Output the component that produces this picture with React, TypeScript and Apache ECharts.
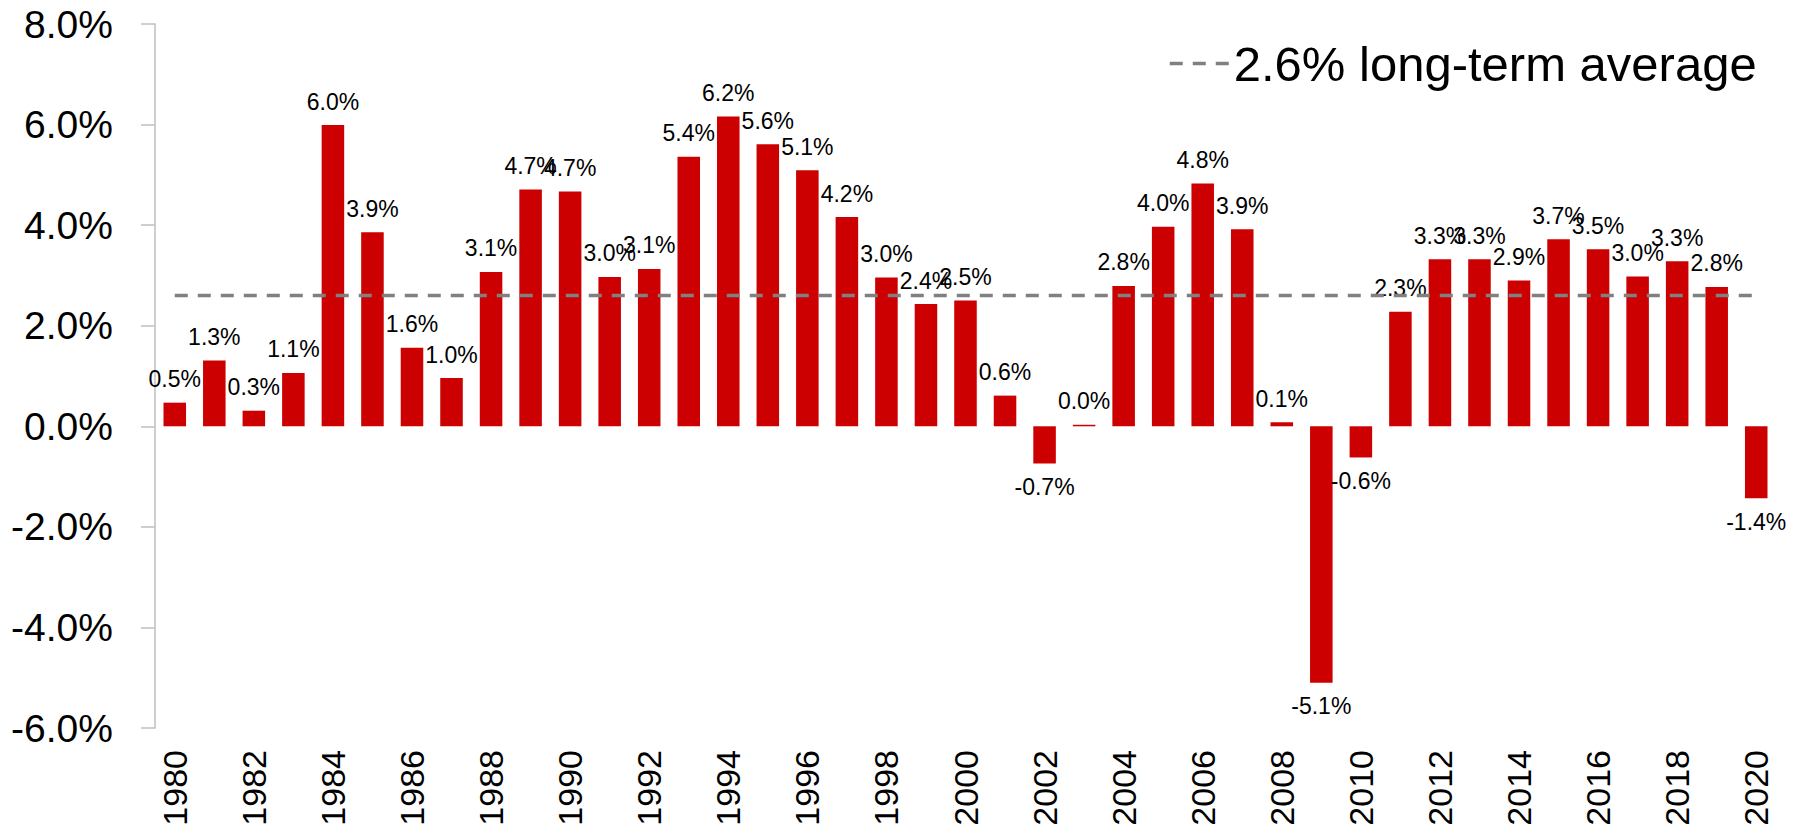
import React, { useEffect, useRef } from "react";
import * as echarts from "echarts";

const categories = [
  "1980", "1981", "1982", "1983", "1984", "1985", "1986", "1987", "1988", "1989",
  "1990", "1991", "1992", "1993", "1994", "1995", "1996", "1997", "1998", "1999",
  "2000", "2001", "2002", "2003", "2004", "2005", "2006", "2007", "2008", "2009",
  "2010", "2011", "2012", "2013", "2014", "2015", "2016", "2017", "2018", "2019",
  "2020",
];

const growth = [
  0.47, 1.31, 0.31, 1.06, 5.99, 3.86, 1.56, 0.96, 3.07, 4.71,
  4.67, 2.97, 3.13, 5.36, 6.16, 5.61, 5.09, 4.16, 2.96, 2.43,
  2.5, 0.61, -0.74, 0.03, 2.79, 3.97, 4.83, 3.92, 0.08, -5.1,
  -0.62, 2.28, 3.32, 3.32, 2.9, 3.72, 3.52, 2.98, 3.28, 2.77,
  -1.43,
];

const longTermAverage = 2.6;
const averageLabel = "2.6% long-term average";

const yMin = -6;
const yMax = 8;
const yInterval = 2;

const FONT = "Liberation Sans, Arial, sans-serif";

export default function App() {
  const ref = useRef<HTMLDivElement>(null);

  useEffect(() => {
    document.body.style.margin = "0";
    if (!ref.current) return;
    const chart = echarts.init(ref.current, undefined, { renderer: "svg" });

    const barData = growth.map((v) => ({
      value: v,
      label: { position: v < 0 ? "bottom" : "top" },
    }));

    chart.setOption({
      animation: false,
      textStyle: { fontFamily: FONT },
      grid: {
        left: 155,
        right: 32,
        top: 24,
        bottom: 97,
        containLabel: false,
        outerBoundsMode: "none",
      },
      legend: {
        show: true,
        left: 1163,
        top: 34,
        itemWidth: 59,
        itemHeight: 4,
        data: [{ name: averageLabel }],
        lineStyle: { type: [13, 10], width: 3.5, color: "#808080" },
        textStyle: { fontSize: 49, color: "#000", fontFamily: FONT },
      },
      xAxis: {
        type: "category",
        data: categories,
        boundaryGap: true,
        axisLine: { show: false },
        axisTick: { show: false },
        axisLabel: {
          rotate: 90,
          interval: 1,
          margin: 22,
          fontSize: 34,
          color: "#000",
          fontFamily: FONT,
        },
      },
      yAxis: {
        type: "value",
        min: yMin,
        max: yMax,
        interval: yInterval,
        splitLine: { show: false },
        axisLine: { show: true, lineStyle: { color: "#bfbfbf", width: 1.5 } },
        axisTick: { show: true, length: 14, lineStyle: { color: "#bfbfbf", width: 1.5 } },
        axisLabel: {
          margin: 42,
          fontSize: 39,
          color: "#000",
          fontFamily: FONT,
          formatter: (v: number) => v.toFixed(1) + "%",
        },
      },
      series: [
        {
          type: "bar",
          name: "growth",
          data: barData,
          barWidth: "57%",
          itemStyle: { color: "#cc0000" },
          label: {
            show: true,
            distance: 12,
            fontSize: 23,
            color: "#000",
            fontFamily: FONT,
            formatter: (p: any) => Number(p.value).toFixed(1) + "%",
          },
        },
        {
          type: "line",
          name: averageLabel,
          data: [
            [categories[0], longTermAverage],
            [categories[categories.length - 1], longTermAverage],
          ],
          symbol: "none",
          lineStyle: { color: "#808080", width: 3.5, type: [13, 10] },
          itemStyle: { color: "#808080" },
          z: 5,
        },
      ],
    });

    return () => chart.dispose();
  }, []);

  return <div ref={ref} style={{ width: 1808, height: 825 }} />;
}
